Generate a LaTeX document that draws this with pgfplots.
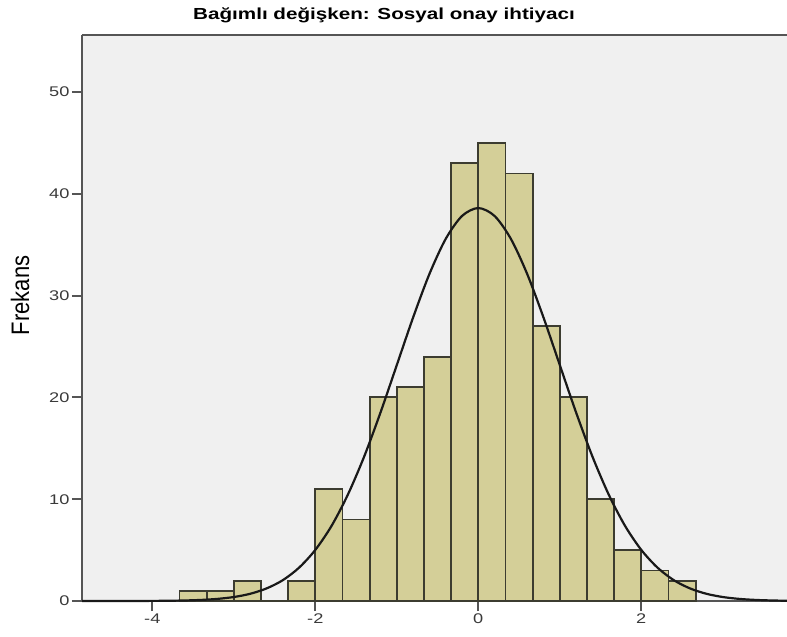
\documentclass[border=0pt]{standalone}
\usepackage{pgfplots}
\pgfplotsset{compat=1.18}
\usepackage{fontspec}
\setmainfont{Liberation Sans}
\usepackage{graphicx}
\definecolor{barcol}{HTML}{D4CF98}
\definecolor{bgcol}{HTML}{F0F0F0}
\definecolor{axcol}{HTML}{555555}
\definecolor{tickcol}{HTML}{3A3A3A}
\definecolor{edgecol}{HTML}{3C3C30}
\begin{document}
\begin{tikzpicture}
\useasboundingbox (-82pt,-36pt) rectangle (705pt,601pt);
\begin{axis}[
  scale only axis,
  width=705pt, height=566pt,
  xmin=-4.863, xmax=3.788,
  ymin=0, ymax=55.6,
  axis x line*=bottom,
  axis y line*=left,
  axis line style={axcol, line width=2.2pt},
  axis background/.style={fill=bgcol},
  tick align=outside,
  major tick length=10pt,
  tick style={axcol, line width=2pt},
  xtick={-4,-2,0,2},
  ytick={0,10,20,30,40,50},
  /pgf/number format/assume math mode=true,
  xticklabel={\scalebox{1.3}[1]{\pgfmathprintnumber{\tick}}},
  yticklabel={\scalebox{1.3}[1]{\pgfmathprintnumber{\tick}}},
  ticklabel style={font=\fontsize{14}{16}\selectfont, text=tickcol},
  yticklabel style={xshift=1pt},
  xticklabel style={yshift=1pt},
  ylabel={\scalebox{1}[1.15]{Frekans}},
  ylabel style={font=\fontsize{22}{24}\selectfont, at={(rel axis cs:-0.088,0.54)}, anchor=center},
  clip=false,
]
\addplot[ybar interval, fill=barcol, draw=edgecol, line width=1.8pt] coordinates {
(-3.6667,1) (-3.3333,1) (-3.0000,2) (-2.6667,0) (-2.3333,2) (-2.0000,11)
(-1.6667,8) (-1.3333,20) (-1.0000,21) (-0.6667,24) (-0.3333,43) (0.0000,45)
(0.3333,42) (0.6667,27) (1.0000,20) (1.3333,10) (1.6667,5) (2.0000,3)
(2.3333,2) (2.6667,2)
};
\addplot[smooth, black!90, line width=2.2pt] coordinates {
(-4.86,0.00) (-4.4,0.002) (-4.0,0.011) (-3.8,0.024) (-3.6,0.052) (-3.4,0.106)
(-3.2,0.208) (-3.0,0.391) (-2.8,0.707) (-2.6,1.23) (-2.4,2.04) (-2.2,3.27)
(-2.0,5.02) (-1.8,7.39) (-1.6,10.46) (-1.4,14.20) (-1.2,18.52) (-1.0,23.18)
(-0.8,27.85) (-0.6,32.12) (-0.4,35.57) (-0.2,37.82) (0.0,38.60) (0.2,37.82)
(0.4,35.57) (0.6,32.12) (0.8,27.85) (1.0,23.18) (1.2,18.52) (1.4,14.20)
(1.6,10.46) (1.8,7.39) (2.0,5.02) (2.2,3.27) (2.4,2.04) (2.6,1.23)
(2.8,0.707) (3.0,0.391) (3.2,0.208) (3.4,0.106) (3.6,0.052) (3.788,0.024)
};
\draw[axcol, line width=2.2pt] (rel axis cs:0,1) -- (rel axis cs:1,1);
\end{axis}
\node[anchor=base, font=\bfseries\fontsize{16}{18}\selectfont] at (302pt,581pt) {\scalebox{1.29}[1]{Bağımlı değişken: Sosyal onay ihtiyacı}};
\end{tikzpicture}
\end{document}
